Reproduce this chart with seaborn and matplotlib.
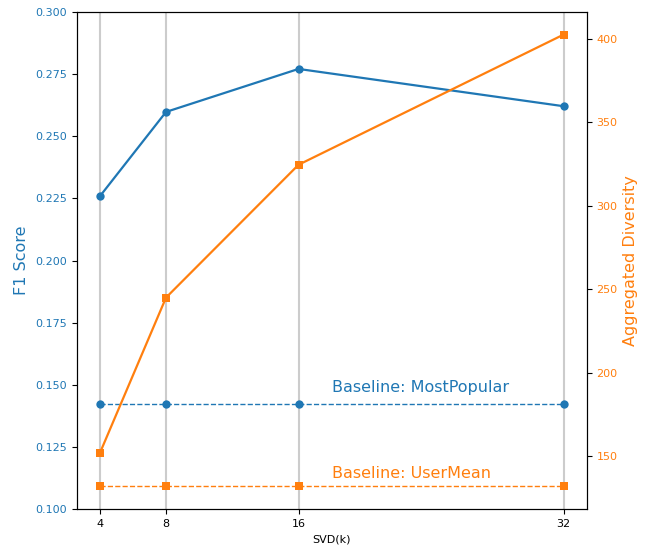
import numpy as np
import pandas as pd
import matplotlib
matplotlib.use("Agg")
import matplotlib.pyplot as plt
import seaborn as sns

# values
svd_k = [4, 8, 16, 32]
f1_score = [0.2258, 0.2598, 0.2771, 0.2621]
diversity = [151.8, 245.0, 324.5, 402.4]
mostpopular_f1 = [0.1423, 0.1423, 0.1423, 0.1423]
usermean_div = [132.0, 132.0, 132.0, 132.0]

blue = "#1f77b4"
orange = "#ff7f0e"

df = pd.DataFrame({
    "k": svd_k,
    "f1": f1_score,
    "div": diversity,
    "mp": mostpopular_f1,
    "um": usermean_div,
})

fig = plt.figure(figsize=(6.49, 5.47), dpi=100)
ax1 = fig.add_axes([0.118, 0.0695, 0.786, 0.9085])
ax2 = ax1.twinx()

# F1 on left axis
sns.lineplot(data=df, x="k", y="f1", ax=ax1, color=blue, marker="o",
             markersize=6, markeredgewidth=0, linewidth=1.6)
sns.lineplot(data=df, x="k", y="mp", ax=ax1, color=blue, marker="o",
             markersize=6, markeredgewidth=0, linewidth=1.0, linestyle="--")

# diversity on right axis
sns.lineplot(data=df, x="k", y="div", ax=ax2, color=orange, marker="s",
             markersize=6, markeredgewidth=0, linewidth=1.6)
sns.lineplot(data=df, x="k", y="um", ax=ax2, color=orange, marker="s",
             markersize=6, markeredgewidth=0, linewidth=1.0, linestyle="--")

ax1.set_ylim(0.1, 0.3)
ax1.set_xticks(svd_k)
ax1.xaxis.grid(True, color="#cccccc", linewidth=1.5)
ax1.set_axisbelow(True)

ax1.set_xlabel("SVD(k)", fontsize=8)
ax1.set_ylabel("F1 Score", color=blue, fontsize=11.5)
ax2.set_ylabel("Aggregated Diversity", color=orange, fontsize=11.5)

ax1.tick_params(axis="x", labelsize=8)
ax1.tick_params(axis="y", labelsize=8, labelcolor=blue)
ax2.tick_params(axis="y", labelsize=8, labelcolor=orange)

ax1.text(18, 0.147, "Baseline: MostPopular", color=blue, fontsize=11.5)
ax2.text(18, 137, "Baseline: UserMean", color=orange, fontsize=11.5)

fig.savefig("out.png", dpi=100)
